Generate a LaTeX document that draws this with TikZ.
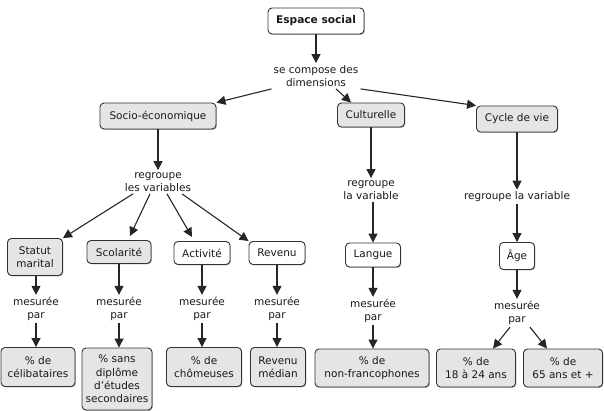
\documentclass[tikz,border=0pt]{standalone}
\usepackage{fontspec}
\setmainfont{DejaVu Sans}
\usetikzlibrary{arrows.meta,shadows}
\begin{document}
\begin{tikzpicture}[x=1pt,y=-1pt,
  txt/.style={font=\fontsize{10.5}{13.3}\selectfont, text=black!90},
  box/.style={txt, draw=black!80, line width=0.9pt, rounded corners=4pt, align=center, inner sep=1pt,
    drop shadow={shadow xshift=0.9pt, shadow yshift=-0.9pt, fill=black!40, opacity=0.7}},
  gbox/.style={box, fill=black!10},
  wbox/.style={box, fill=white},
  lbl/.style={txt, align=center, inner sep=2pt},
  arr/.style={-{Triangle[length=9pt,width=9pt]}, line width=1.1pt, draw=black!85},
]
\useasboundingbox (0,0) rectangle (604,411);

% top
\node[wbox, minimum width=96pt, minimum height=26pt, font=\bfseries\fontsize{10.6}{12}\selectfont] (es) at (316,21) {Espace social};
\node[lbl] (se) at (316,76) {se compose des\\dimensions};

% dimensions
\node[gbox, minimum width=116pt, minimum height=26pt] (soc) at (158,116) {Socio-économique};
\node[gbox, minimum width=67pt, minimum height=24pt] (cul) at (371,115) {Culturelle};
\node[gbox, minimum width=81pt, minimum height=26pt] (cyc) at (517,119) {Cycle de vie};

% regroupe
\node[lbl] (rg1) at (158,182) {regroupe\\les variables};
\node[lbl] (rg2) at (371,190) {regroupe\\la variable};
\node[lbl] (rg3) at (517,197) {regroupe la variable};

% variables
\node[gbox, minimum width=55pt, minimum height=37pt] (sta) at (35,257) {Statut\\marital};
\node[gbox, minimum width=64pt, minimum height=23pt] (sco) at (119,252) {Scolarité};
\node[wbox, minimum width=56pt, minimum height=23pt] (act) at (202,253) {Activité};
\node[wbox, minimum width=56pt, minimum height=23pt] (rev) at (277,253) {Revenu};
\node[wbox, minimum width=55pt, minimum height=24pt] (lan) at (373,255) {Langue};
\node[wbox, minimum width=35pt, minimum height=27pt] (age) at (517,256) {Âge};

% mesurée par
\node[lbl] (m1) at (36,309) {mesurée\\par};
\node[lbl] (m2) at (119,309) {mesurée\\par};
\node[lbl] (m3) at (202,309) {mesurée\\par};
\node[lbl] (m4) at (277,309) {mesurée\\par};
\node[lbl] (m5) at (373,311) {mesurée\\par};
\node[lbl] (m6) at (517,313) {mesurée\\par};

% indicators
\node[gbox, minimum width=74pt, minimum height=39pt] (cel) at (38,367) {\% de\\célibataires};
\node[gbox, minimum width=70pt, minimum height=62pt] (dip) at (117,379) {\% sans\\diplôme\\d'études\\secondaires};
\node[gbox, minimum width=75pt, minimum height=39pt] (cho) at (204,367) {\% de\\chômeuses};
\node[gbox, minimum width=55pt, minimum height=39pt] (med) at (278,367) {Revenu\\médian};
\node[gbox, minimum width=114pt, minimum height=38pt] (nf) at (372,368) {\% de\\non-francophones};
\node[gbox, minimum width=79pt, minimum height=38pt] (a18) at (476,368) {\% de\\18 à 24 ans};
\node[gbox, minimum width=79pt, minimum height=38pt] (a65) at (563,368) {\% de\\65 ans et +};

% connectors
\draw[arr] (es) -- (es |- se.north);
\draw[arr] (se.south west) -- (soc.north east);
\draw[arr] ([xshift=20pt]se.south) -- ([xshift=-20pt]cul.north);
\draw[arr] (se.south east) -- (cyc.north west);

\draw[arr] (soc) -- (soc |- rg1.north);
\draw[arr] (cul) -- (cul |- rg2.north);
\draw[arr] (cyc) -- (cyc |- rg3.north);

\draw[arr] ([xshift=-25pt]rg1.south) -- (sta.north east);
\draw[arr] ([xshift=-8pt]rg1.south) -- ([xshift=11pt,yshift=4pt]sco.north);
\draw[arr] ([xshift=9pt]rg1.south) -- ([xshift=-10pt,yshift=4pt]act.north);
\draw[arr] ([xshift=24pt]rg1.south) -- (rev.north west);

\draw[arr] (rg2.south -| lan.north) -- (lan.north);
\draw[arr] (rg3.south -| age.north) -- (age.north);

\draw[arr] (sta.south -| m1.north) -- (m1.north);
\draw[arr] (sco.south -| m2.north) -- (m2.north);
\draw[arr] (act.south -| m3.north) -- (m3.north);
\draw[arr] (rev.south -| m4.north) -- (m4.north);
\draw[arr] (lan.south -| m5.north) -- (m5.north);
\draw[arr] (age.south -| m6.north) -- (m6.north);

\draw[arr] (m1.south) -- (m1.south |- cel.north);
\draw[arr] (m2.south) -- (m2.south |- dip.north);
\draw[arr] (m3.south) -- (m3.south |- cho.north);
\draw[arr] (m4.south) -- (m4.south |- med.north);
\draw[arr] (m5.south) -- (m5.south |- nf.north);
\draw[arr] ([xshift=-7pt]m6.south) -- ([xshift=17pt]a18.north);
\draw[arr] ([xshift=13pt]m6.south) -- ([xshift=-16pt]a65.north);
\end{tikzpicture}
\end{document}
